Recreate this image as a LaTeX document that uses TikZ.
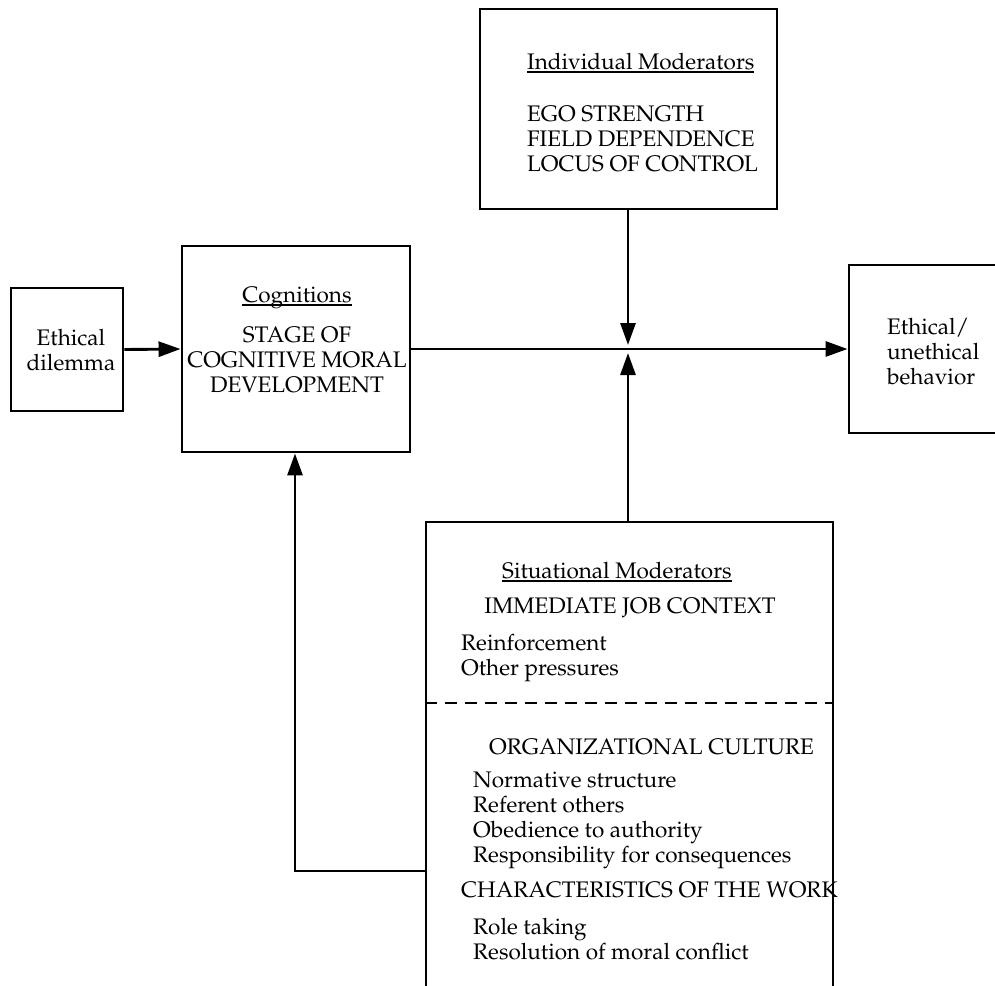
\documentclass[tikz,border=0pt]{standalone}
\usepackage[T1]{fontenc}
\usepackage{mathpazo}
\usetikzlibrary{arrows.meta}
\newcommand{\ulthick}[1]{\setbox0\hbox{#1}\rlap{\rule[-3.5pt]{\wd0}{1.8pt}}\box0}
\begin{document}
\begin{tikzpicture}[x=1pt,y=-1pt,
  box/.style={draw, line width=2.9pt, inner sep=0pt},
  txt/.style={inner sep=0pt, font=\fontsize{22.5}{25}\selectfont},
  arr/.style={line width=2.9pt, -{Triangle[length=22pt,width=15pt]}},
  divider/.style={line width=2.9pt, dash pattern=on 12pt off 8pt}]
\useasboundingbox (0,0) rectangle (995,985);
% boxes
\node[box, minimum width=112pt, minimum height=123pt] (dil) at (67,349.5) {};
\node[box, minimum width=228pt, minimum height=206pt] (cog) at (296,349) {};
\node[box, minimum width=170pt, minimum height=168pt] (beh) at (934,349) {};
\node[box, minimum width=297pt, minimum height=200pt] (ind) at (628.5,109) {};
\node[box, minimum width=407pt, minimum height=500pt] (sit) at (629.5,772) {};
% texts
\node[txt, align=center] (diltxt) at (71,350) {Ethical\\dilemma};
\node[txt] (cogtitle) at (297,298) {\ulthick{Cognitions}};
\node[txt, align=center] (cogbody) at (297,360) {STAGE OF\\COGNITIVE MORAL\\DEVELOPMENT};
\node[txt, align=left, anchor=west] (behtxt) at (887,352) {Ethical/\\unethical\\behavior};
\node[txt, anchor=west] (indtitle) at (527,63) {\ulthick{Individual Moderators}};
\node[txt, align=left, anchor=west] (indbody) at (527,139) {EGO STRENGTH\\FIELD DEPENDENCE\\LOCUS OF CONTROL};
\node[txt, anchor=west] (sittitle) at (502,572) {\ulthick{Situational Moderators}};
\node[txt] (ijc) at (630,608) {IMMEDIATE JOB CONTEXT};
\node[txt, align=left, anchor=west] (ijclist) at (461,658) {Reinforcement\\Other pressures};
\node[txt, anchor=west] (org) at (489,747) {ORGANIZATIONAL CULTURE};
\node[txt, align=left, anchor=west] (orglist) at (473,820) {Normative structure\\Referent others\\Obedience to authority\\Responsibility for consequences};
\node[txt, anchor=west] (work) at (461,890) {CHARACTERISTICS OF THE WORK};
\node[txt, align=left, anchor=west] (worklist) at (473,939) {Role taking\\Resolution of moral conflict};
% coordinates
\coordinate (Jt) at (628,345);
\coordinate (Jb) at (628,353);
\coordinate (fb) at (295,871);
\coordinate (dv) at (0,703);
% connectors
\draw[arr] (dil.east) -- (cog.west);
\draw[arr] (cog.east) -- (beh.west);
\draw[arr] (ind.south -| Jt) -- (Jt);
\draw[arr] (sit.north -| Jb) -- (Jb);
\draw[arr] (sit.west |- fb) -| (cog.south -| fb);
\draw[divider] (sit.west |- dv) -- (sit.east |- dv);
\end{tikzpicture}
\end{document}
